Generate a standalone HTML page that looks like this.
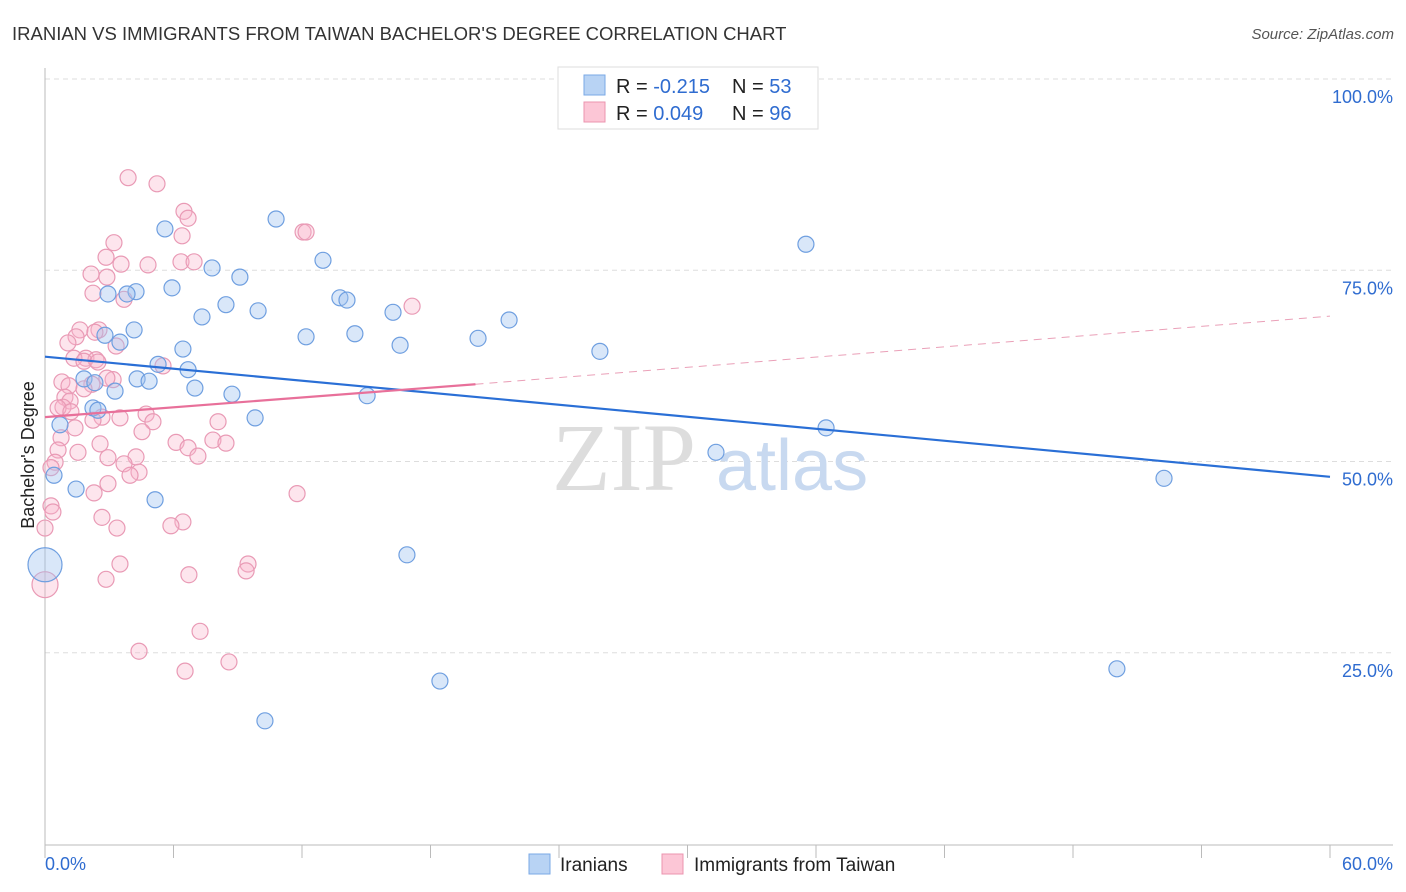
<!DOCTYPE html>
<html><head><meta charset="utf-8"><style>
body{margin:0;background:#fff;font-family:"Liberation Sans",sans-serif;}
svg{display:block}
</style></head><body>
<svg id="c" width="1406" height="892" xmlns="http://www.w3.org/2000/svg">
<text x="12" y="40" font-size="18.5" fill="#333">IRANIAN VS IMMIGRANTS FROM TAIWAN BACHELOR'S DEGREE CORRELATION CHART</text>
<text x="1394" y="39" font-size="15" fill="#555" font-style="italic" text-anchor="end">Source: ZipAtlas.com</text>
<g id="grid"></g>
<g><text x="552" y="490" font-size="96" font-family="Liberation Serif,serif" fill="#ddd">ZIP</text><text x="716" y="490" font-size="72" fill="#c8d9f0">atlas</text></g>
<text transform="translate(34,455) rotate(-90)" font-size="18" fill="#222" text-anchor="middle">Bachelor's Degree</text>
<g id="pts"></g>
<g id="lines"></g>
<g>
<rect x="558" y="67" width="260" height="62" fill="#fff" stroke="#ddd"/>
<rect x="584" y="75" width="21" height="20" fill="#b8d3f4" stroke="#7aa8e6"/>
<rect x="584" y="102" width="21" height="20" fill="#fcc6d6" stroke="#eb94af"/>
<text x="616" y="93" font-size="20" fill="#222">R = <tspan fill="#2f6cd0">-0.215</tspan><tspan x="732">N = </tspan><tspan fill="#2f6cd0">53</tspan></text>
<text x="616" y="120" font-size="20" fill="#222">R = <tspan fill="#2f6cd0"> 0.049</tspan><tspan x="732">N = </tspan><tspan fill="#2f6cd0">96</tspan></text>
</g>
<g>
<rect x="529" y="854" width="21" height="20" fill="#b8d3f4" stroke="#7aa8e6"/>
<text x="560" y="871" font-size="19" fill="#222">Iranians</text>
<rect x="662" y="854" width="21" height="20" fill="#fcc6d6" stroke="#eb94af"/>
<text x="694" y="871" font-size="19" fill="#222">Immigrants from Taiwan</text>
</g>
</svg>
<script>
const yTicks=[25,50,75,100];
const yTickLabels=["25.0%","50.0%","75.0%","100.0%"];
const xTicks=[0,6,12,18,24,30,36,42,48,54,60];
const iranX=[5.60,10.79,35.53,7.80,9.10,12.98,5.93,4.25,2.94,3.83,8.45,9.95,7.33,13.77,14.10,16.25,21.67,4.16,2.80,3.50,12.19,14.47,16.58,20.22,25.91,6.44,5.28,6.68,4.30,4.86,1.82,2.33,7.00,8.73,3.27,15.04,9.81,2.24,2.47,0.70,36.47,31.33,0.42,52.25,1.45,5.14,16.90,0.0,50.05,18.44,10.27];
const iranY=[80.4,81.7,78.4,75.3,74.1,76.3,72.7,72.2,71.9,71.9,70.5,69.7,68.9,71.4,71.1,69.5,68.5,67.2,66.5,65.6,66.3,66.7,65.2,66.1,64.4,64.7,62.7,62.0,60.8,60.5,60.8,60.3,59.6,58.8,59.2,58.6,55.7,57.0,56.7,54.8,54.4,51.2,48.2,47.8,46.4,45.0,37.8,36.5,22.9,21.3,16.1];
const taiX=[3.88,5.23,6.49,6.68,6.40,12.05,12.19,3.22,2.85,3.55,4.81,6.35,6.96,2.15,2.89,2.24,3.69,17.14,1.63,2.52,1.45,2.33,1.07,3.32,1.91,1.35,2.38,5.51,1.82,2.47,3.18,2.89,0.79,1.12,2.19,1.82,0.93,1.17,0.84,0.61,1.21,2.66,3.50,4.72,5.04,8.08,2.24,4.53,0.75,1.40,2.57,7.84,6.12,6.68,8.45,0.61,1.54,4.25,2.94,7.14,0.47,3.69,4.39,0.28,3.97,2.94,2.29,11.77,0.28,0.37,0,2.66,6.44,5.88,3.36,3.50,9.48,9.39,6.72,2.85,0,7.24,4.39,8.59,6.54];
const taiY=[87.1,86.3,82.7,81.8,79.5,80.0,80.0,78.6,76.7,75.8,75.7,76.1,76.1,74.5,74.1,72.0,71.2,70.3,67.2,67.2,66.3,66.9,65.5,65.1,63.5,63.5,63.3,62.5,63.1,63.0,60.7,60.9,60.4,59.9,60.1,59.5,58.4,57.9,57.1,57.0,56.5,55.8,55.7,56.2,55.2,55.2,55.4,53.9,53.1,54.4,52.3,52.8,52.5,51.8,52.4,51.5,51.2,50.6,50.5,50.7,49.9,49.7,48.6,49.2,48.2,47.1,45.9,45.8,44.2,43.4,41.3,42.7,42.1,41.6,41.3,36.6,36.6,35.7,35.2,34.6,33.9,27.8,25.2,23.8,22.6];
const iranBig=[47]; const taiBig=[80];
const blueLine=[[0,63.7],[60,48.0]];
const pinkSolid=[[0,55.8],[20.1,60.1]];
const pinkDash=[[20.1,60.1],[60,69.0]];
const NS="http://www.w3.org/2000/svg";
const X=v=>45+v/60*1285, Y=v=>844-v/100*765;
function mk(t,a,p){const e=document.createElementNS(NS,t);for(const k in a)e.setAttribute(k,a[k]);p.appendChild(e);return e;}
const grid=document.getElementById('grid');
yTicks.forEach((t,i)=>{const l=mk('line',{x1:45,x2:1393,y1:Y(t),y2:Y(t),stroke:'#ddd','stroke-dasharray':'5,4'},grid);


const tx=mk('text',{x:1393,y:Y(t)+24,'font-size':18,fill:'#2f6cd0','text-anchor':'end'},grid);tx.textContent=yTickLabels[i];

});
mk('line',{x1:45,x2:1393,y1:79,y2:79,stroke:'#ddd','stroke-dasharray':'5,4'},grid);
const ya=mk('line',{x1:45,x2:45,y1:68,y2:845,stroke:'#bbb'},grid);


const xa=mk('line',{x1:45,x2:1393,y1:845,y2:845,stroke:'#bbb'},grid);


xTicks.forEach(t=>{const l=mk('line',{x1:X(t),x2:X(t),y1:845,y2:858,stroke:'#bbb'},grid);

});
[[0,'0.0%','start',45],[60,'60.0%','end',1393]].forEach(d=>{const t=mk('text',{x:d[3],y:870,'font-size':18,fill:'#2f6cd0','text-anchor':d[2]},grid);t.textContent=d[1];

});
const pts=document.getElementById('pts');
taiX.forEach((x,i)=>{const c=mk('circle',{cx:X(x),cy:Y(taiY[i]),r:taiBig.includes(i)?13:8,fill:'rgba(248,180,202,0.35)',stroke:'#e99ab5','stroke-width':1.2},pts);

});
iranX.forEach((x,i)=>{const c=mk('circle',{cx:X(x),cy:Y(iranY[i]),r:iranBig.includes(i)?17:8,fill:'rgba(160,196,240,0.4)',stroke:'#6f9fe0','stroke-width':1.2},pts);

});
const lines=document.getElementById('lines');
let l=mk('line',{x1:X(blueLine[0][0]),y1:Y(blueLine[0][1]),x2:X(blueLine[1][0]),y2:Y(blueLine[1][1]),stroke:'#2a6fd6','stroke-width':2.2},lines);


l=mk('line',{x1:X(pinkSolid[0][0]),y1:Y(pinkSolid[0][1]),x2:X(pinkSolid[1][0]),y2:Y(pinkSolid[1][1]),stroke:'#e8709a','stroke-width':2.2},lines);


l=mk('line',{x1:X(pinkDash[0][0]),y1:Y(pinkDash[0][1]),x2:X(pinkDash[1][0]),y2:Y(pinkDash[1][1]),stroke:'#eaa0b8','stroke-width':1,'stroke-dasharray':'8,6'},lines);


</script>
</body></html>
